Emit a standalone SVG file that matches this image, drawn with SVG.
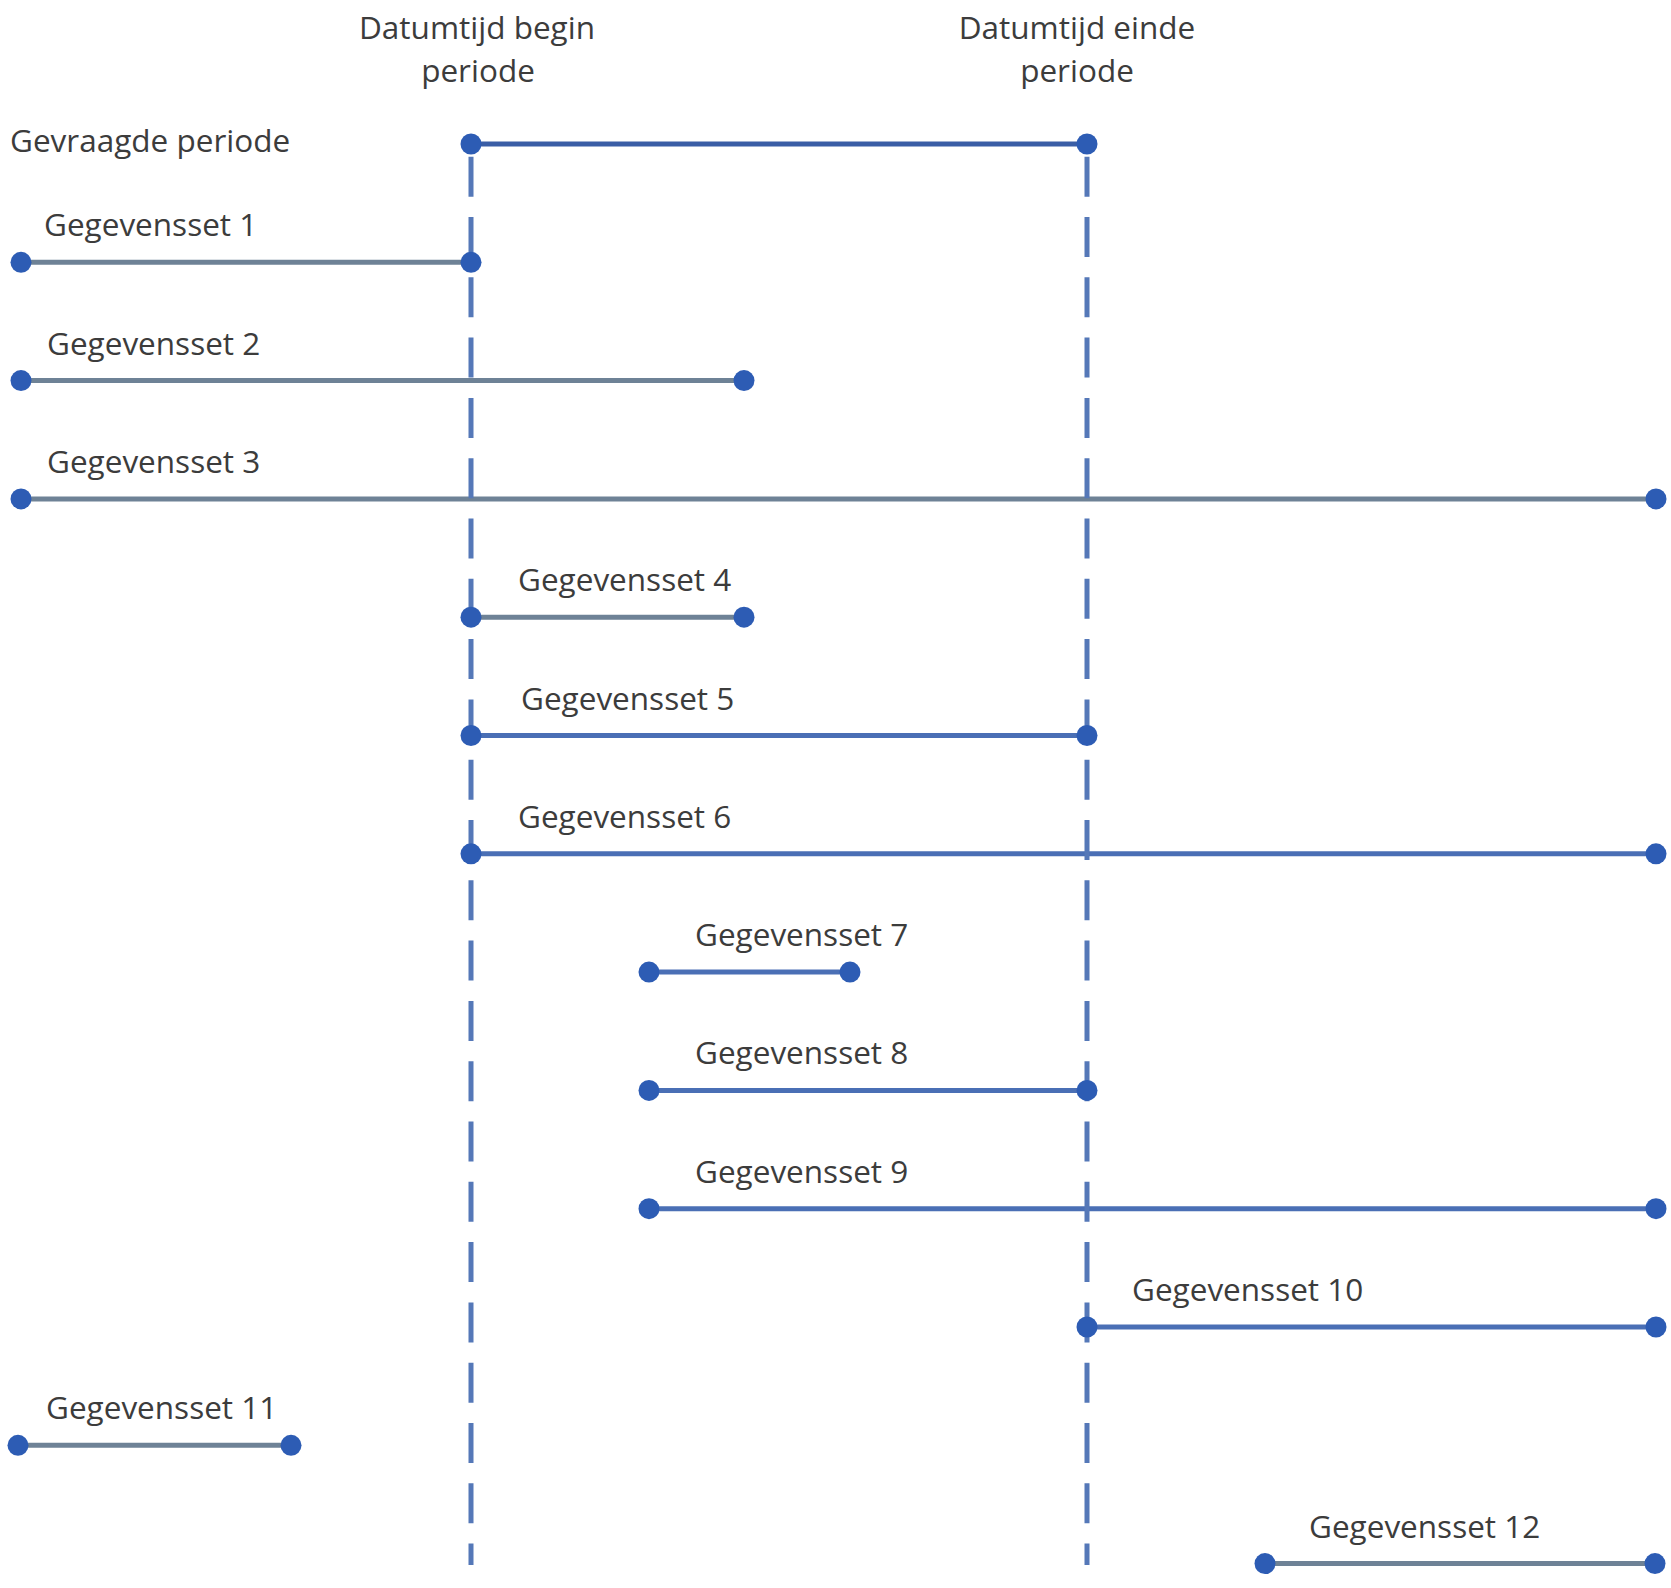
<svg xmlns="http://www.w3.org/2000/svg" width="1671" height="1588" viewBox="0 0 1671 1588">
<style>
  text { font-family: "Open Sans", "Liberation Sans", sans-serif; font-size: 31.5px; fill: #3c3c3c; }
  .head { text-anchor: middle; }
  .seg { stroke-width: 5; fill: none; stroke-linecap: butt; }
  .dark { stroke: #3a5ea6; }
  .blue { stroke: #4a6fb5; }
  .gray { stroke: #6e8296; }
  .guide { stroke: #5578b8; stroke-width: 5; fill: none; stroke-dasharray: 40 20.3; stroke-dashoffset: 47.6; }
  .dot { fill: #2d5cb4; }
</style>
<rect x="0" y="0" width="1671" height="1588" fill="#ffffff"/>
<g id="connectors">
  <line class="seg dark" x1="471" y1="144" x2="1087" y2="144"/>
  <line class="seg gray" x1="21" y1="262.3" x2="471" y2="262.3"/>
  <line class="seg gray" x1="21" y1="380.6" x2="744" y2="380.6"/>
  <line class="seg gray" x1="21" y1="498.9" x2="1656" y2="498.9"/>
  <line class="seg gray" x1="471" y1="617.2" x2="744" y2="617.2"/>
  <line class="seg blue" x1="471" y1="735.5" x2="1087" y2="735.5"/>
  <line class="seg blue" x1="471" y1="853.8" x2="1656" y2="853.8"/>
  <line class="seg blue" x1="649" y1="972.1" x2="850" y2="972.1"/>
  <line class="seg blue" x1="649" y1="1090.4" x2="1087" y2="1090.4"/>
  <line class="seg blue" x1="649" y1="1208.7" x2="1656" y2="1208.7"/>
  <line class="seg blue" x1="1087" y1="1327" x2="1656" y2="1327"/>
  <line class="seg gray" x1="18" y1="1445.3" x2="291" y2="1445.3"/>
  <line class="seg gray" x1="1265" y1="1563.6" x2="1655" y2="1563.6"/>
</g>
<g id="begin">
  <text class="head" x="477" y="39">Datumtijd begin</text>
  <text class="head" x="478" y="82">periode</text>
  <line class="guide" x1="471" y1="144" x2="471" y2="1565"/>
</g>
<g id="einde">
  <text class="head" x="1077" y="39">Datumtijd einde</text>
  <text class="head" x="1077" y="82">periode</text>
  <line class="guide" x1="1087" y1="144" x2="1087" y2="1565"/>
</g>
<g id="gevraagde">
  <text x="10" y="152">Gevraagde periode</text>
  <circle class="dot" cx="471" cy="144" r="10.5"/>
  <circle class="dot" cx="1087" cy="144" r="10.5"/>
</g>
<g id="set1">
  <text x="44" y="236">Gegevensset 1</text>
  <circle class="dot" cx="21" cy="262.3" r="10.5"/>
  <circle class="dot" cx="471" cy="262.3" r="10.5"/>
</g>
<g id="set2">
  <text x="47" y="354.6">Gegevensset 2</text>
  <circle class="dot" cx="21" cy="380.6" r="10.5"/>
  <circle class="dot" cx="744" cy="380.6" r="10.5"/>
</g>
<g id="set3">
  <text x="47" y="473">Gegevensset 3</text>
  <circle class="dot" cx="21" cy="498.9" r="10.5"/>
  <circle class="dot" cx="1656" cy="498.9" r="10.5"/>
</g>
<g id="set4">
  <text x="518" y="591">Gegevensset 4</text>
  <circle class="dot" cx="471" cy="617.2" r="10.5"/>
  <circle class="dot" cx="744" cy="617.2" r="10.5"/>
</g>
<g id="set5">
  <text x="521" y="709.5">Gegevensset 5</text>
  <circle class="dot" cx="471" cy="735.5" r="10.5"/>
  <circle class="dot" cx="1087" cy="735.5" r="10.5"/>
</g>
<g id="set6">
  <text x="518" y="828">Gegevensset 6</text>
  <circle class="dot" cx="471" cy="853.8" r="10.5"/>
  <circle class="dot" cx="1656" cy="853.8" r="10.5"/>
</g>
<g id="set7">
  <text x="695" y="946">Gegevensset 7</text>
  <circle class="dot" cx="649" cy="972.1" r="10.5"/>
  <circle class="dot" cx="850" cy="972.1" r="10.5"/>
</g>
<g id="set8">
  <text x="695" y="1064.4">Gegevensset 8</text>
  <circle class="dot" cx="649" cy="1090.4" r="10.5"/>
  <circle class="dot" cx="1087" cy="1090.4" r="10.5"/>
</g>
<g id="set9">
  <text x="695" y="1182.7">Gegevensset 9</text>
  <circle class="dot" cx="649" cy="1208.7" r="10.5"/>
  <circle class="dot" cx="1656" cy="1208.7" r="10.5"/>
</g>
<g id="set10">
  <text x="1132" y="1301">Gegevensset 10</text>
  <circle class="dot" cx="1087" cy="1327" r="10.5"/>
  <circle class="dot" cx="1656" cy="1327" r="10.5"/>
</g>
<g id="set11">
  <text x="46" y="1419.3">Gegevensset 11</text>
  <circle class="dot" cx="18" cy="1445.3" r="10.5"/>
  <circle class="dot" cx="291" cy="1445.3" r="10.5"/>
</g>
<g id="set12">
  <text x="1309" y="1537.6">Gegevensset 12</text>
  <circle class="dot" cx="1265" cy="1563.6" r="10.5"/>
  <circle class="dot" cx="1655" cy="1563.6" r="10.5"/>
</g>
</svg>
